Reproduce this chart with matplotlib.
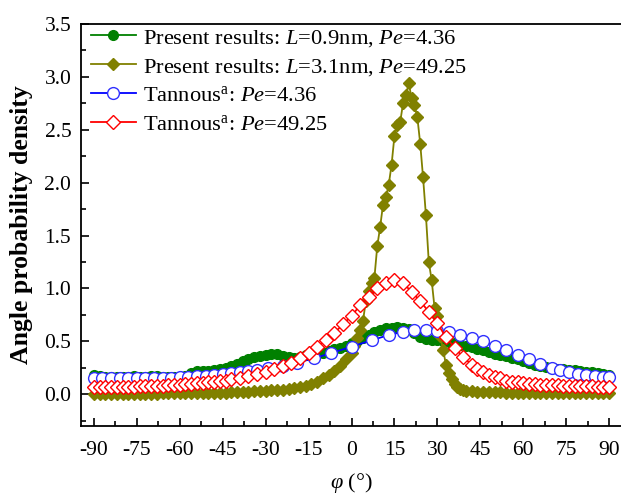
import matplotlib
matplotlib.use("Agg")
import matplotlib.pyplot as plt
from matplotlib.ticker import MultipleLocator

plt.rcParams['font.family'] = ['Liberation Serif', 'DejaVu Serif']
plt.rcParams['mathtext.fontset'] = 'custom'
plt.rcParams['mathtext.rm'] = 'Liberation Serif'
plt.rcParams['mathtext.it'] = 'Liberation Serif:italic'
plt.rcParams['mathtext.bf'] = 'Liberation Serif:bold'

# ---- data ----
green_x = [-90, -88, -86, -84, -82, -80, -78, -76, -74, -72, -70, -68, -66, -64, -62, -60,
           -58, -56, -54, -52, -50, -48, -46, -44, -42, -40, -38, -36, -34, -32, -30, -28,
           -26, -24, -22, -20, -18, -16, -14, -12, -10, -8, -6, -4, -2, 0, 2, 4, 6, 8, 10,
           12, 14, 16, 18, 20, 22, 24, 26, 28, 30, 32, 34, 36, 38, 40, 42, 44, 46, 48, 50,
           52, 54, 56, 58, 60, 62, 64, 66, 68, 70, 72, 74, 76, 78, 80, 82, 84, 86, 88, 90]
green_y = [0.18, 0.17, 0.16, 0.16, 0.16, 0.16, 0.16, 0.17, 0.16, 0.16, 0.17, 0.17, 0.16, 0.16,
           0.16, 0.16, 0.17, 0.20, 0.22, 0.22, 0.22, 0.23, 0.24, 0.25, 0.27, 0.29, 0.31, 0.33,
           0.35, 0.36, 0.37, 0.38, 0.38, 0.36, 0.35, 0.34, 0.35, 0.37, 0.38, 0.38, 0.39, 0.41,
           0.43, 0.44, 0.46, 0.48, 0.50, 0.53, 0.56, 0.59, 0.61, 0.63, 0.63, 0.64, 0.63, 0.62,
           0.58, 0.54, 0.52, 0.51, 0.51, 0.50, 0.49, 0.48, 0.47, 0.46, 0.45, 0.43, 0.42, 0.40,
           0.38, 0.37, 0.36, 0.34, 0.33, 0.31, 0.30, 0.28, 0.27, 0.26, 0.25, 0.24, 0.24, 0.23,
           0.23, 0.22, 0.21, 0.21, 0.20, 0.19, 0.18]

olive_x = [-90, -88, -86, -84, -82, -80, -78, -76, -74, -72, -70, -68, -66, -64, -62, -60,
           -58, -56, -54, -52, -50, -48, -46, -44, -42, -40, -38, -36, -34, -32, -30, -28,
           -26, -24, -22, -20, -18, -16, -14, -12, -10, -8, -6, -4, -2, 0,
           1, 2, 3, 4, 5, 6, 7, 8, 9, 10, 11, 12, 13, 14, 15, 16, 17, 18, 19, 20,
           21, 22, 23, 24, 25, 26, 27, 28, 29, 30, 31, 32, 33, 34, 35, 36, 37, 38, 39, 40,
           42, 44, 46, 48, 50, 52, 54, 56, 58, 60, 62, 64, 66, 68, 70, 72, 74, 76, 78, 80,
           82, 84, 86, 88, 90]
olive_y = [0.00, 0.00, 0.00, 0.00, 0.00, 0.00, 0.00, 0.00, 0.00, 0.00, 0.00, 0.00, 0.01, 0.01,
           0.01, 0.01, 0.01, 0.01, 0.01, 0.01, 0.01, 0.01, 0.01, 0.01, 0.02, 0.02, 0.02, 0.02,
           0.03, 0.03, 0.03, 0.04, 0.04, 0.04, 0.05, 0.06, 0.07, 0.08, 0.10, 0.12, 0.15, 0.18,
           0.22, 0.27, 0.33, 0.39,
           0.46, 0.53, 0.61, 0.69, 0.88, 0.98, 1.05, 1.10, 1.40, 1.58, 1.79, 1.86, 1.98, 2.17,
           2.44, 2.55, 2.57, 2.75, 2.83, 2.94, 2.80, 2.73, 2.62, 2.37, 2.05, 1.69, 1.25, 1.08,
           0.82, 0.74, 0.55, 0.42, 0.28, 0.20, 0.14, 0.10, 0.07, 0.05, 0.04, 0.03,
           0.03, 0.02, 0.02, 0.02, 0.02, 0.02, 0.01, 0.01, 0.01, 0.01, 0.01, 0.01, 0.01, 0.01,
           0.01, 0.01, 0.01, 0.01, 0.01, 0.01, 0.01, 0.01, 0.01, 0.01, 0.01]

blue_x = [-90, -87, -84, -81, -78, -75, -72, -69, -66, -63, -60, -57, -54, -51, -48, -45,
          -42, -39, -36, -33, -29, -24, -19, -13, -7, 0, 7, 13, 18, 22, 26, 30, 34, 38, 42,
          46, 50, 54, 58, 62, 66, 70, 73, 76, 79, 82, 85, 88, 90]
blue_y = [0.155, 0.15, 0.15, 0.15, 0.15, 0.15, 0.15, 0.15, 0.15, 0.155, 0.16, 0.16, 0.17,
          0.175, 0.18, 0.19, 0.20, 0.21, 0.22, 0.23, 0.25, 0.27, 0.30, 0.34, 0.39, 0.45, 0.51,
          0.56, 0.59, 0.61, 0.61, 0.60, 0.59, 0.56, 0.53, 0.50, 0.46, 0.42, 0.37, 0.33, 0.29,
          0.25, 0.23, 0.21, 0.19, 0.18, 0.17, 0.16, 0.16]

red_x = [-90, -88, -86, -84, -82, -80, -78, -76, -74, -72, -70, -68, -66, -64, -62, -60,
         -58, -56, -54, -52, -50, -48, -46, -44, -42,
         -39, -36, -33, -30, -27, -24, -21, -18, -15, -12, -9, -6, -3, 0, 3, 6, 9, 12, 15,
         18, 21, 24, 27, 30, 33, 36, 39,
         42, 44, 46, 48, 50, 52, 54, 56, 58, 60, 62, 64, 66, 68, 70, 72, 74, 76, 78, 80, 82,
         84, 86, 88, 90]
red_y = [0.07, 0.07, 0.07, 0.07, 0.07, 0.07, 0.07, 0.07, 0.075, 0.075, 0.08, 0.08, 0.08,
         0.085, 0.09, 0.09, 0.095, 0.10, 0.105, 0.11, 0.115, 0.12, 0.125, 0.13, 0.14,
         0.15, 0.17, 0.19, 0.21, 0.24, 0.27, 0.30, 0.34, 0.39, 0.45, 0.51, 0.58, 0.66, 0.74,
         0.84, 0.92, 1.00, 1.05, 1.08, 1.05, 0.97, 0.88, 0.78, 0.67, 0.54, 0.44, 0.35,
         0.28, 0.24, 0.21, 0.18, 0.16, 0.15, 0.13, 0.12, 0.115, 0.11, 0.10, 0.095, 0.09,
         0.09, 0.085, 0.085, 0.08, 0.08, 0.08, 0.075, 0.075, 0.075, 0.07, 0.07, 0.07]

labels = [r"Present results: $L$=0.9nm, $Pe$=4.36",
          r"Present results: $L$=3.1nm, $Pe$=49.25",
          r"Tannous$^{\mathrm{a}}$: $Pe$=4.36",
          r"Tannous$^{\mathrm{a}}$: $Pe$=49.25"]
x_ticks = [-90, -75, -60, -45, -30, -15, 0, 15, 30, 45, 60, 75, 90]
y_ticks = [0.0, 0.5, 1.0, 1.5, 2.0, 2.5, 3.0, 3.5]

# ---- figure ----
fig = plt.figure(figsize=(6.21, 4.96), dpi=100)
ax = fig.add_axes([81/621, 1-426/496, 541/621, (426-24)/496])

ax.plot(green_x, green_y, '-o', color='#008000', mfc='#008000', mec='#008000',
        ms=7, lw=1.3, label=labels[0])
ax.plot(olive_x, olive_y, '-D', color='#808000', mfc='#808000', mec='#808000',
        ms=6.5, lw=1.3, label=labels[1])
ax.plot(blue_x, blue_y, '-o', color='#0000FF', mfc='white', mec='#3030FF',
        ms=8.5, mew=1.0, lw=1.3, label=labels[2])
ax.plot(red_x, red_y, '-D', color='#FF0000', mfc='white', mec='#FF0000',
        ms=7, mew=1.0, lw=1.3, label=labels[3])

ax.set_xlim(-94.5, 94.5)
ax.set_ylim(-0.30, 3.5)
ax.set_xticks(x_ticks)
ax.set_xticklabels([str(t) for t in x_ticks])
ax.set_yticks(y_ticks)
ax.set_yticklabels([f"{t:.1f}" for t in y_ticks])
ax.xaxis.set_minor_locator(MultipleLocator(7.5))
ax.yaxis.set_minor_locator(MultipleLocator(0.25))
ax.tick_params(which='both', direction='in', top=False, right=False, labelsize=15.5, width=1.2)
ax.tick_params(which='major', length=6)
ax.tick_params(which='minor', length=3.5)
ax.tick_params(axis='x', pad=11)
ax.tick_params(axis='y', pad=7)
for s in ax.spines.values():
    s.set_linewidth(1.3)

ax.set_ylabel("Angle probability density", fontsize=18.5, fontweight='bold', labelpad=8)
ax.set_xlabel(r"$\varphi$ (°)", fontsize=16, labelpad=8)

ax.legend(loc='upper left', frameon=False, fontsize=16.2, handlelength=2.0,
          handletextpad=0.3, labelspacing=0.35, borderaxespad=0.0, numpoints=1,
          borderpad=0.15, bbox_to_anchor=(0.012, 1.0))

fig.savefig("out.png", dpi=100)
